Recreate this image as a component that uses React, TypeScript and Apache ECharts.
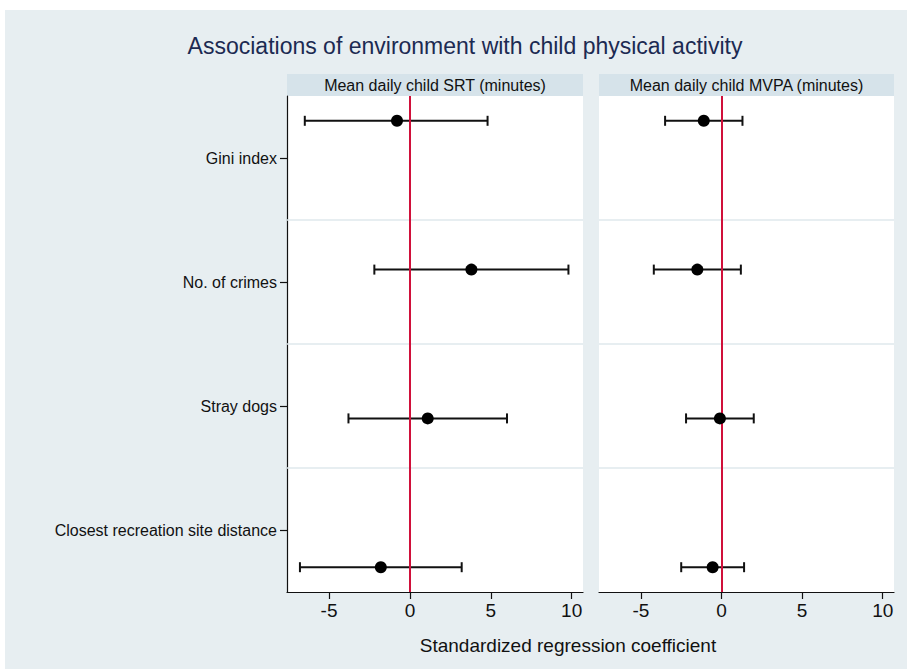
import React, { useEffect, useRef } from "react";
import * as echarts from "echarts";

const categories = ["Gini index", "No. of crimes", "Stray dogs", "Closest recreation site distance"];
const rowPositions = [0.2, 1.4, 2.6, 3.8];
const srtEstimate = [-0.8, 3.8, 1.1, -1.8];
const srtLower = [-6.5, -2.2, -3.8, -6.8];
const srtUpper = [4.8, 9.8, 6.0, 3.2];
const mvpaEstimate = [-1.1, -1.5, -0.1, -0.55];
const mvpaLower = [-3.5, -4.2, -2.2, -2.5];
const mvpaUpper = [1.3, 1.2, 2.0, 1.4];
const xTicks = [-5, 0, 5, 10];
const panelTitles = ["Mean daily child SRT (minutes)", "Mean daily child MVPA (minutes)"];
const chartTitle = "Associations of environment with child physical activity";
const xAxisTitle = "Standardized regression coefficient";

const FONT = "'Liberation Sans', Arial, Helvetica, sans-serif";
const labelPositions = categories.map((_, i) => i + 0.5);
const bandBoundaries = categories.slice(1).map((_, i) => i + 1);

export default function App() {
  const ref = useRef<HTMLDivElement>(null);
  useEffect(() => {
    if (!ref.current) return;
    const chart = echarts.init(ref.current, null, { renderer: "svg" });

    const panels = [
      { left: 287, width: 296, est: srtEstimate, lo: srtLower, hi: srtUpper, showY: true },
      { left: 599, width: 295, est: mvpaEstimate, lo: mvpaLower, hi: mvpaUpper, showY: false },
    ];
    const top = 96;
    const height = 496;

    const grids = panels.map((p) => ({
      left: p.left,
      top,
      width: p.width,
      height,
      show: true,
      backgroundColor: "#ffffff",
      borderWidth: 0,
    }));

    const xAxes = panels.map((_, i) => ({
      type: "value",
      gridIndex: i,
      min: -7.6,
      max: 10.7,
      axisLine: { show: true, onZero: false, lineStyle: { color: "#111", width: 1.2 } },
      axisTick: { show: true, inside: false, customValues: xTicks, length: 7, lineStyle: { color: "#111", width: 1.2 } },
      axisLabel: {
        show: true,
        customValues: xTicks,
        fontSize: 19,
        color: "#111",
        fontFamily: FONT,
        margin: 9,
        formatter: (v: number) => String(v),
      },
      splitLine: { show: false },
    }));

    const yAxes = panels.map((p, i) => ({
      type: "value",
      gridIndex: i,
      min: 0,
      max: 4,
      inverse: true,
      axisLine: { show: p.showY, onZero: false, lineStyle: { color: "#111", width: 1.2 } },
      axisTick: {
        show: p.showY,
        inside: false,
        customValues: labelPositions,
        length: 7,
        lineStyle: { color: "#111", width: 1.2 },
      },
      axisLabel: {
        show: p.showY,
        customValues: labelPositions,
        fontSize: 16,
        color: "#111",
        fontFamily: FONT,
        margin: 10,
        formatter: (v: number) => categories[Math.floor(v)] ?? "",
      },
      splitLine: { show: false },
    }));

    const series: any[] = [];
    panels.forEach((p, i) => {
      series.push({
        type: "custom",
        xAxisIndex: i,
        yAxisIndex: i,
        z: 2,
        silent: true,
        encode: { x: [0, 1], y: 2 },
        data: p.lo.map((lo, k) => [lo, p.hi[k], rowPositions[k]]),
        renderItem: (_params: any, api: any) => {
          const a = api.coord([api.value(0), api.value(2)]);
          const b = api.coord([api.value(1), api.value(2)]);
          const cap = 5;
          const style = { stroke: "#111", lineWidth: 2 };
          return {
            type: "group",
            children: [
              { type: "line", shape: { x1: a[0], y1: a[1], x2: b[0], y2: b[1] }, style },
              { type: "line", shape: { x1: a[0], y1: a[1] - cap, x2: a[0], y2: a[1] + cap }, style },
              { type: "line", shape: { x1: b[0], y1: b[1] - cap, x2: b[0], y2: b[1] + cap }, style },
            ],
          };
        },
        markLine: {
          silent: true,
          symbol: ["none", "none"],
          label: { show: false },
          data: [
            ...bandBoundaries.map((b) => ({
              yAxis: b,
              lineStyle: { color: "#dfe8ed", width: 1.5, type: "solid" },
            })),
            { xAxis: 0, lineStyle: { color: "#d0103a", width: 2, type: "solid" } },
          ],
        },
      });
      series.push({
        type: "scatter",
        xAxisIndex: i,
        yAxisIndex: i,
        z: 5,
        silent: true,
        symbol: "circle",
        symbolSize: 12,
        itemStyle: { color: "#000", opacity: 1 },
        data: p.est.map((e, k) => [e, rowPositions[k]]),
      });
    });

    const graphic: any[] = [
      { type: "rect", shape: { x: 0, y: 0, width: 914, height: 10 }, style: { fill: "#fff" }, silent: true },
      { type: "rect", shape: { x: 0, y: 0, width: 5, height: 669 }, style: { fill: "#fff" }, silent: true },
      { type: "rect", shape: { x: 907, y: 0, width: 7, height: 669 }, style: { fill: "#fff" }, silent: true },
      {
        type: "text",
        x: 465,
        y: 46,
        style: {
          text: chartTitle,
          fill: "#1c2a52",
          font: `23px ${FONT}`,
          textAlign: "center",
          textVerticalAlign: "middle",
        },
      },
      {
        type: "text",
        x: 568,
        y: 645,
        style: {
          text: xAxisTitle,
          fill: "#111",
          font: `19px ${FONT}`,
          textAlign: "center",
          textVerticalAlign: "middle",
        },
      },
    ];
    panels.forEach((p, i) => {
      graphic.push({
        type: "rect",
        shape: { x: p.left, y: 74, width: p.width, height: 22 },
        style: { fill: "#d6e3ea" },
        silent: true,
      });
      graphic.push({
        type: "text",
        x: p.left + p.width / 2,
        y: 85,
        style: {
          text: panelTitles[i],
          fill: "#111",
          font: `16px ${FONT}`,
          textAlign: "center",
          textVerticalAlign: "middle",
        },
      });
    });

    chart.setOption({
      animation: false,
      backgroundColor: "#e7eef1",
      grid: grids,
      xAxis: xAxes,
      yAxis: yAxes,
      series,
      graphic,
    });
    return () => chart.dispose();
  }, []);
  return (
    <div
      ref={ref}
      style={{ position: "absolute", left: 0, top: 0, width: 914, height: 669 }}
    />
  );
}
